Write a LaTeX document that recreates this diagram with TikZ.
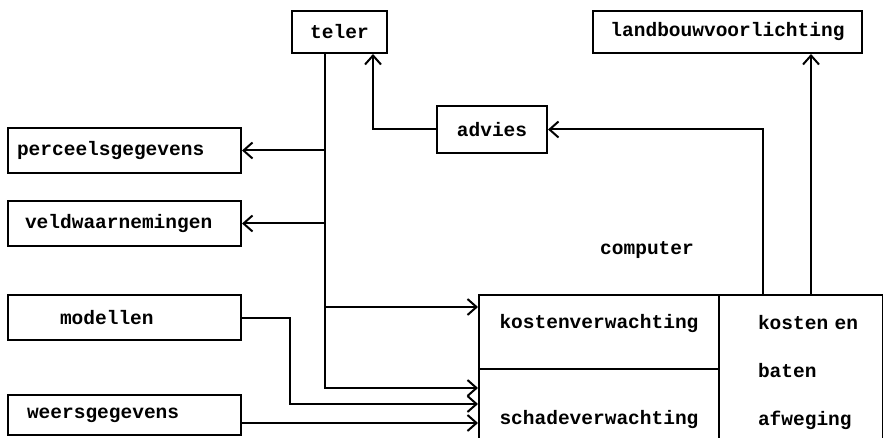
\documentclass[tikz,border=0pt]{standalone}
\usepackage{fontspec}
\setmonofont{Liberation Mono}
\usetikzlibrary{arrows.meta}

\begin{document}
\begin{tikzpicture}[x=1pt,y=-1pt,
  box/.style={draw, line width=2pt, inner sep=0pt, font=\ttfamily\bfseries\fontsize{19.5}{48}\selectfont},
  lbox/.style={box, align=left, inner xsep=9pt, text width=215pt, minimum height=45pt},
  flow/.style={line width=2pt},
  arr/.style={flow, -{Straight Barb[length=9pt,width=16pt]}}]
\useasboundingbox (0,0) rectangle (883,438);
\node[box, minimum width=95pt, minimum height=42pt] (teler) at (339.5,32) {teler};
\node[box, minimum width=269pt, minimum height=42pt] (voorl) at (727.5,32) {landbouwvoorlichting};
\node[box, minimum width=110pt, minimum height=47pt] (advies) at (492,129.5) {advies};
\node[lbox] (perceel) at (124.5,150.5) {perceelsgegevens};
\node[lbox] (veld) at (124.5,223.5) {\hspace*{8pt}veldwaarnemingen};
\node[lbox] (modellen) at (124.5,317.5) {\hspace*{43pt}modellen};
\node[lbox, minimum height=40pt] (weer) at (124.5,415) {\hspace*{10pt}weersgegevens};
\node[box, draw=none] (comp) at (647,250) {computer};
\node[box, anchor=north west, minimum width=240pt, minimum height=74pt, text depth=22pt] (kosten) at (478,294) {kostenverwachting};
\node[box, anchor=north west, minimum width=240pt, minimum height=100pt] (schade) at (478,368) {schadeverwachting};
\node[box, anchor=north west, minimum width=164pt, minimum height=156pt, text width=86pt, align=left] (afweging) at (718,294) {kosten~en\\baten\\afweging};
\coordinate (spine) at (325,388);
\coordinate (k) at (325,307);
\coordinate (m) at (290,404);
\coordinate (t) at (373,0);
\coordinate (a) at (763,0);
\coordinate (l) at (811,0);
\draw[arr] (teler.south -| spine) -- (spine) -- (spine -| schade.west);
\draw[arr] (spine |- perceel.east) -- (perceel.east);
\draw[arr] (spine |- veld.east) -- (veld.east);
\draw[arr] (k) -- (k -| kosten.west);
\draw[arr] (modellen.east) -| (m) -- (m -| schade.west);
\draw[arr] ([yshift=-8pt]weer.east) -- ([yshift=-8pt]weer.east -| schade.west);
\draw[arr] (advies.west) -| (teler.south -| t);
\draw[arr] (afweging.north -| a) |- (advies.east);
\draw[arr] (afweging.north -| l) -- (voorl.south -| l);
\end{tikzpicture}
\end{document}
